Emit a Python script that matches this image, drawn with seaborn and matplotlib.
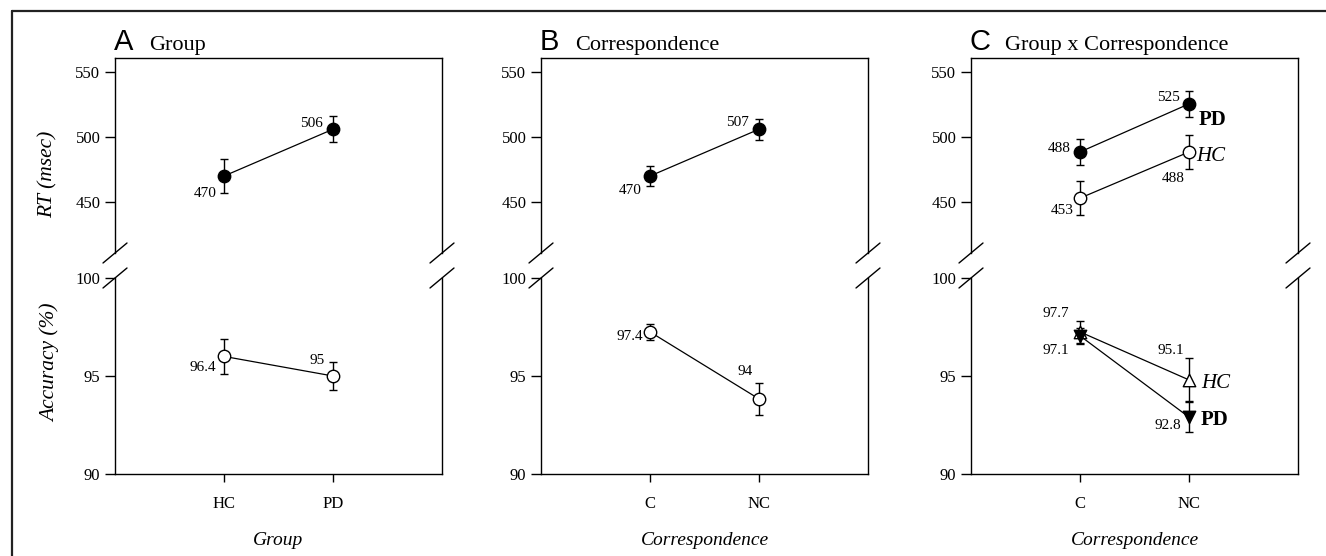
import numpy as np
import pandas as pd
import matplotlib
matplotlib.use("Agg")
import matplotlib.pyplot as plt
from matplotlib.lines import Line2D
import seaborn as sns

# Data
groups = ["HC", "PD"]
rt_group = [470, 506]
rt_group_err = [13, 10]
rt_group_labels = ["470", "506"]
acc_group = [96.0, 95.0]
acc_group_err = [0.9, 0.7]
acc_group_labels = ["96.4", "95"]

corr = ["C", "NC"]
rt_corr = [470, 506]
rt_corr_err = [7.7, 8]
rt_corr_labels = ["470", "507"]
acc_corr = [97.25, 93.83]
acc_corr_err = [0.4, 0.8]
acc_corr_labels = ["97.4", "94"]

rt_hc = [453, 488.5]
rt_hc_err = [13, 13]
rt_hc_labels = ["453", "488"]
rt_pd = [488.5, 525.5]
rt_pd_err = [10, 10]
rt_pd_labels = ["488", "525"]
acc_hc = [97.25, 94.8]
acc_hc_err = [0.55, 1.1]
acc_hc_labels = ["97.7", "95.1"]
acc_pd = [97.05, 92.9]
acc_pd_err = [0.4, 0.75]
acc_pd_labels = ["97.1", "92.8"]

sns.set_style("ticks")
plt.rcParams['font.family'] = ['Liberation Serif', 'DejaVu Serif']
plt.rcParams['axes.linewidth'] = 1.0
for key in ["text.color", "axes.labelcolor", "xtick.color", "ytick.color",
            "axes.edgecolor"]:
    plt.rcParams[key] = "black"

W, H = 1326, 556
fig = plt.figure(figsize=(W / 100, H / 100), dpi=100)


def px(x, y):
    # pixel (from top-left) -> figure fraction
    return x / W, 1 - y / H


def draw_series(ax, vals, errs, marker, face, labels, offsets):
    df = pd.DataFrame({"x": [0, 1], "y": vals})
    sns.lineplot(data=df, x="x", y="y", ax=ax, color="black", linewidth=0.9,
                 zorder=2, legend=False)
    ax.errorbar(df["x"], df["y"], yerr=errs, fmt="none", ecolor="black",
                elinewidth=1.0, capsize=2.6, capthick=1.0, zorder=3)
    sns.scatterplot(data=df, x="x", y="y", ax=ax, marker=marker, s=80,
                    facecolor=face, edgecolor="black", linewidth=1.0,
                    zorder=4, legend=False)
    for xi, yi, lab, off in zip(df["x"], df["y"], labels, offsets):
        ax.annotate(lab, (xi, yi), xytext=off, textcoords="offset pixels",
                    ha="right", va="center", fontsize=11)
    ax.set_xlabel("")
    ax.set_ylabel("")


def setup_pair(left, letter, title):
    l = left / W
    w = 327 / W
    ax_top = fig.add_axes([l, 1 - 253 / H, w, 195 / H])
    ax_bot = fig.add_axes([l, 1 - 474 / H, w, 196 / H])
    # break marks
    for xe in (left, left + 327):
        for ye in (253, 278):
            x0, y0 = px(xe - 12, ye + 10)
            x1, y1 = px(xe + 12, ye - 10)
            fig.add_artist(Line2D([x0, x1], [y0, y1], color="black", lw=1.0))
    tx, ty = px(left - 1, 50)
    fig.text(tx, ty, letter, family="Liberation Sans", fontsize=21,
             ha="left", va="baseline")
    tx, ty = px(left + 34, 50)
    fig.text(tx, ty, title, fontsize=16, ha="left", va="baseline")
    return ax_top, ax_bot


def finish_pair(ax_top, ax_bot, cats, xlabel):
    for ax in (ax_top, ax_bot):
        ax.set_xlim(-1, 2)
        ax.tick_params(axis="y", direction="out", length=7, width=1, labelsize=12)
        ax.tick_params(axis="x", direction="out", length=6, width=1, labelsize=12)
    ax_top.set_ylim(410.8, 560.8)
    ax_top.set_yticks([450, 500, 550])
    ax_top.spines["bottom"].set_visible(False)
    ax_top.set_xticks([])
    ax_bot.set_ylim(90, 100)
    ax_bot.set_yticks([90, 95, 100])
    ax_bot.spines["top"].set_visible(False)
    ax_bot.set_xticks([0, 1])
    ax_bot.set_xticklabels(cats)
    ax_bot.tick_params(axis="x", pad=10)
    ax_bot.set_xlabel(xlabel, style="italic", fontsize=14, labelpad=14)


# Panel A
a_top, a_bot = setup_pair(115, "A", "Group")
draw_series(a_top, rt_group, rt_group_err, "o", "black", rt_group_labels,
            [(-7, -17), (-10, 6)])
draw_series(a_bot, acc_group, acc_group_err, "o", "white", acc_group_labels,
            [(-8, -11), (-8, 15)])
finish_pair(a_top, a_bot, groups, "Group")
tx, ty = px(48, 174)
fig.text(tx, ty, "RT (msec)", style="italic", fontsize=15.5, rotation=90,
         ha="center", va="center")
tx, ty = px(50, 363)
fig.text(tx, ty, "Accuracy (%)", style="italic", fontsize=15.5, rotation=90,
         ha="center", va="center")

# Panel B
b_top, b_bot = setup_pair(541, "B", "Correspondence")
draw_series(b_top, rt_corr, rt_corr_err, "o", "black", rt_corr_labels,
            [(-8, -14), (-10, 7)])
draw_series(b_bot, acc_corr, acc_corr_err, "o", "white", acc_corr_labels,
            [(-7, -5), (-6, 27)])
finish_pair(b_top, b_bot, corr, "Correspondence")

# Panel C
c_top, c_bot = setup_pair(971, "C", "Group x Correspondence")
draw_series(c_top, rt_pd, rt_pd_err, "o", "black", rt_pd_labels,
            [(-9, 3), (-9, 6)])
draw_series(c_top, rt_hc, rt_hc_err, "o", "white", rt_hc_labels,
            [(-6, -12), (-4, -27)])
c_top.annotate("PD", (1, rt_pd[1]), xytext=(10, -16), textcoords="offset pixels",
               ha="left", va="center", fontsize=15, fontweight="bold")
c_top.annotate("HC", (1, rt_hc[1]), xytext=(7, -5), textcoords="offset pixels",
               ha="left", va="center", fontsize=15, style="italic")

draw_series(c_bot, acc_hc, acc_hc_err, "^", "white", acc_hc_labels,
            [(-11, 18), (-5, 29)])
draw_series(c_bot, acc_pd, acc_pd_err, "v", "black", acc_pd_labels,
            [(-11, -15), (-8, -8)])
c_bot.annotate("HC", (1, acc_hc[1]), xytext=(12, -4), textcoords="offset pixels",
               ha="left", va="center", fontsize=15, style="italic")
c_bot.annotate("PD", (1, acc_pd[1]), xytext=(12, -3), textcoords="offset pixels",
               ha="left", va="center", fontsize=15, fontweight="bold")
finish_pair(c_top, c_bot, corr, "Correspondence")

# outer frame (top and left edges)
x0, y0 = px(12, 11)
x1, y1 = px(W, 11)
fig.add_artist(Line2D([x0, x1], [y0, y1], color="#222222", lw=1.6))
x1, y1 = px(12, H)
fig.add_artist(Line2D([x0, x1], [y0, y1], color="#222222", lw=1.6))

fig.savefig("out.png", dpi=100)
